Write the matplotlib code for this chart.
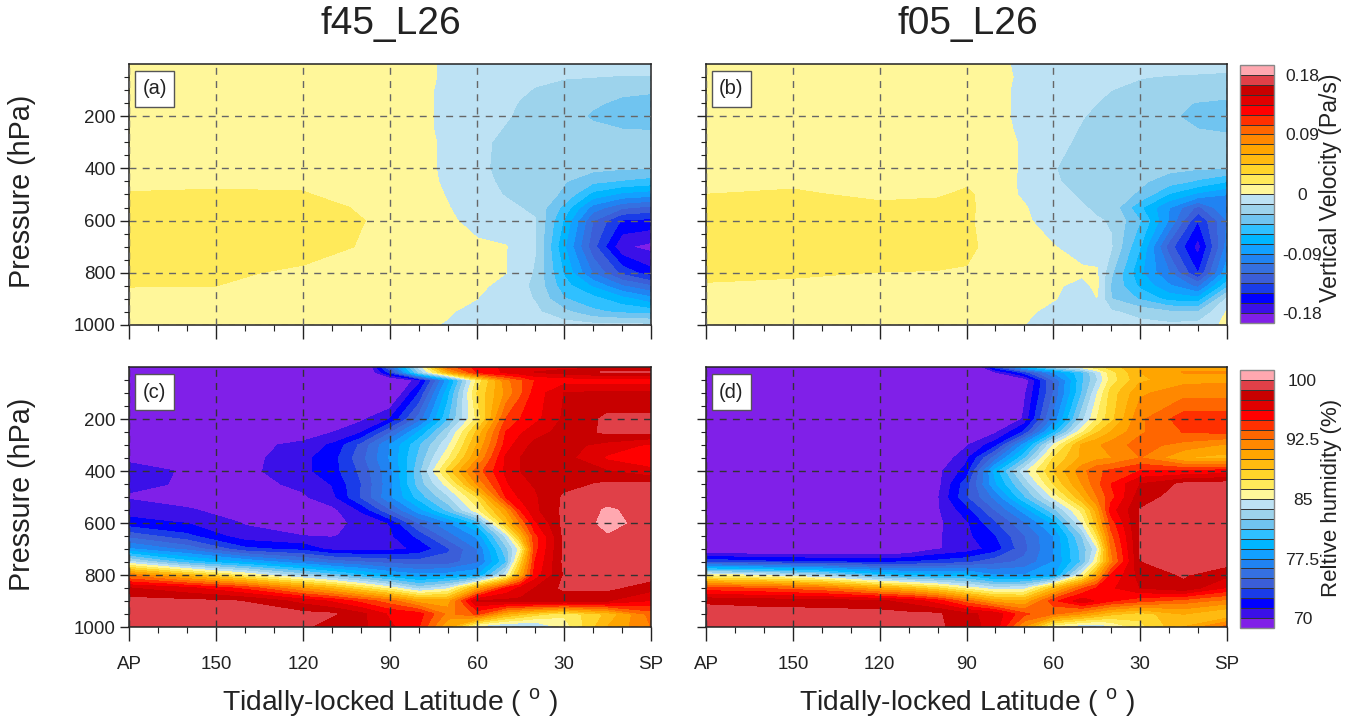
import numpy as np
import matplotlib
matplotlib.use("Agg")
import matplotlib.pyplot as plt
from matplotlib.patches import Rectangle

plt.rcParams['font.family'] = ['Liberation Sans', 'DejaVu Sans']
plt.rcParams['mathtext.fontset'] = 'custom'
plt.rcParams['mathtext.rm'] = 'Liberation Sans'

W, H = 1361, 723

titles = ['f45_L26', 'f05_L26']
panel_tags = ['(a)', '(b)', '(c)', '(d)']
xtick_vals = [180, 150, 120, 90, 60, 30, 0]
xtick_labels = ['AP', '150', '120', '90', '60', '30', 'SP']
ytick_vals = [200, 400, 600, 800, 1000]
band_colors = ['#8020e8', '#3b10e8', '#0000ff', '#1a3ce8', '#3b5ed8', '#3570e0', '#2083f2',
               '#12a0ff', '#00b6ff', '#2fc0ff', '#70c4f0', '#9dd3ec', '#bde2f4', '#fff79a',
               '#ffea5a', '#ffd52a', '#ffba10', '#ffa500', '#ff8800', '#ff6600', '#ff3000',
               '#ff0000', '#e00000', '#c80000', '#e04048', '#ffa8b0']
vv_levels = [-0.18, -0.165, -0.15, -0.135, -0.12, -0.105, -0.09, -0.075, -0.06, -0.045, -0.03, -0.015,
             0, 0.015, 0.03, 0.045, 0.06, 0.075, 0.09, 0.105, 0.12, 0.135, 0.15, 0.165, 0.18]
rh_levels = [70, 71.25, 72.5, 73.75, 75, 76.25, 77.5, 78.75, 80, 81.25, 82.5, 83.75,
             85, 86.25, 87.5, 88.75, 90, 91.25, 92.5, 93.75, 95, 96.25, 97.5, 98.75, 100]
vv_ticks = [-0.18, -0.09, 0, 0.09, 0.18]
vv_ticklabels = ['-0.18', '-0.09', '0', '0.09', '0.18']
rh_ticks = [70, 77.5, 85, 92.5, 100]
rh_ticklabels = ['70', '77.5', '85', '92.5', '100']

vv_lat = [180, 150, 120, 100, 90, 80, 70, 60, 50, 45, 40, 30, 20, 10, 0]
vv_p = [0, 50, 100, 150, 200, 250, 300, 400, 450, 500, 550, 600, 700, 800, 850, 900, 950, 1000]
vv_a = [
 [.006,.006,.006,.006,.005,.003,-.002,-.005,-.007,-.008,-.008,-.009,-.009,-.009,-.009],
 [.006,.006,.006,.006,.005,.003,-.002,-.007,-.009,-.010,-.012,-.014,-.015,-.016,-.016],
 [.006,.006,.006,.006,.005,.003,-.003,-.008,-.011,-.013,-.016,-.021,-.025,-.027,-.028],
 [.006,.006,.006,.006,.005,.003,-.003,-.008,-.012,-.016,-.019,-.024,-.028,-.033,-.036],
 [.006,.006,.006,.006,.005,.003,-.003,-.009,-.014,-.017,-.019,-.024,-.032,-.037,-.039],
 [.006,.006,.006,.006,.005,.003,-.003,-.010,-.016,-.018,-.020,-.024,-.027,-.030,-.031],
 [.006,.006,.006,.006,.005,.003,-.002,-.012,-.018,-.020,-.021,-.022,-.023,-.022,-.022],
 [.007,.007,.007,.006,.005,.003,-.002,-.012,-.019,-.020,-.021,-.023,-.026,-.029,-.030],
 [.011,.012,.012,.008,.007,.004,-.002,-.012,-.017,-.019,-.021,-.029,-.042,-.047,-.052],
 [.016,.017,.016,.009,.008,.006,-.001,-.009,-.016,-.017,-.020,-.033,-.066,-.080,-.085],
 [.022,.024,.021,.0135,.010,.007,.0005,-.007,-.012,-.015,-.018,-.050,-.097,-.118,-.125],
 [.025,.027,.023,.0155,.012,.008,.002,-.004,-.009,-.012,-.014,-.062,-.120,-.152,-.155],
 [.026,.028,.022,.014,.011,.009,.006,.002,.0005,-.008,-.014,-.073,-.130,-.178,-.185],
 [.023,.018,.012,.010,.009,.007,.005,.003,.000,-.007,-.017,-.062,-.107,-.140,-.160],
 [.0155,.015,.010,.009,.008,.006,.005,.002,-.003,-.011,-.019,-.054,-.078,-.105,-.120],
 [.009,.009,.008,.007,.006,.005,.004,.000,-.007,-.011,-.016,-.044,-.055,-.070,-.085],
 [.005,.005,.005,.005,.004,.003,.001,-.004,-.008,-.009,-.012,-.026,-.042,-.048,-.052],
 [.003,.003,.003,.003,.003,.002,-.001,-.004,-.006,-.006,-.007,-.009,-.011,-.012,-.013],
]
vv_b = [
 [.006,.006,.006,.006,.005,.002,-.002,-.005,-.006,-.006,-.007,-.008,-.009,-.009,-.010],
 [.006,.006,.006,.006,.005,.003,-.002,-.005,-.008,-.009,-.011,-.0145,-.016,-.017,-.018],
 [.006,.006,.006,.006,.005,.003,-.003,-.007,-.011,-.013,-.015,-.018,-.020,-.021,-.024],
 [.006,.006,.006,.006,.005,.003,-.003,-.008,-.012,-.015,-.018,-.023,-.026,-.031,-.033],
 [.006,.006,.006,.006,.005,.003,-.003,-.009,-.0145,-.017,-.019,-.022,-.028,-.034,-.036],
 [.006,.006,.006,.006,.005,.003,-.002,-.010,-.016,-.018,-.019,-.022,-.026,-.030,-.033],
 [.006,.006,.006,.006,.005,.003,-.001,-.012,-.017,-.018,-.019,-.021,-.022,-.022,-.023],
 [.007,.007,.007,.007,.007,.003,-.001,-.0145,-.019,-.020,-.021,-.023,-.026,-.029,-.030],
 [.011,.012,.010,.010,.012,.005,-.002,-.014,-.018,-.019,-.021,-.027,-.038,-.048,-.060],
 [.015,.017,.012,.013,.018,.006,-.002,-.010,-.017,-.019,-.021,-.033,-.062,-.080,-.090],
 [.021,.024,.018,.020,.019,.006,.001,-.008,-.014,-.017,-.020,-.058,-.090,-.125,-.090],
 [.024,.027,.022,.020,.018,.006,.002,-.006,-.011,-.014,-.016,-.045,-.092,-.150,-.105],
 [.027,.027,.027,.024,.020,.007,.004,.0005,-.005,-.008,-.014,-.060,-.128,-.172,-.100],
 [.020,.017,.0145,.014,.013,.006,.003,.002,.002,.002,-.028,-.072,-.105,-.151,-.080],
 [.013,.012,.010,.009,.008,.006,.004,.002,-.004,.003,-.032,-.064,-.088,-.110,-.050],
 [.008,.008,.008,.007,.006,.004,.002,.0005,-.004,-.0005,-.030,-.047,-.066,-.070,-.012],
 [.006,.006,.006,.006,.005,.003,.002,-.003,-.006,-.007,-.013,-.021,-.028,-.030,.001],
 [.003,.003,.003,.003,.003,.001,.000,-.003,-.005,-.006,-.007,-.010,-.012,-.010,.004],
]

rh_lat = [180, 160, 140, 120, 110, 100, 90, 80, 70, 60, 50, 45, 40, 30, 15, 0]
rh_p = [0, 20, 50, 100, 200, 250, 300, 350, 400, 450, 500, 550, 600, 650, 700, 750, 800, 850, 900, 950, 1000]
rh_c = [
 [65,65,65,65,65,66.5,75,84,93,95.5,96.5,97,97,97,97,97],
 [65,65,65,65,65,67,73,82.5,90,95,96.5,97,97.5,98,98.9,99],
 [65,65,65,65,65,66,68,70.5,78,86.5,92,93.5,95,95.5,95.5,95.5],
 [65,65,65,65,65,66,68,72.5,79.5,87.5,91.5,93.5,95.5,97.5,97.8,97.8],
 [65,65,65,66,68,69.7,71.25,75.5,81,86.5,93.8,95,95.8,97.7,99,99],
 [66,66,67,68.5,69.9,71,74.7,78.8,83.3,89,95,96,97,97.9,99,99],
 [68,68.5,69.2,70.6,71.4,74,77.5,81,84.7,90,95.5,97,97.8,98,97,96],
 [69.7,69.2,69.5,70.9,71.9,74.5,77.6,81.5,86,91,96.5,97.5,97.8,98,96,95.5],
 [70.5,69.85,69.6,70.9,71.9,74,77.1,82,88,93,96.5,97.5,97.7,98,97.5,96.5],
 [70.4,69.8,69.5,70.3,71.3,73.7,77,81.8,85.5,91.3,96,97.2,97.6,98.3,98.95,99],
 [69.8,69.5,69.5,69.8,70.8,73.8,77.2,80.5,83.5,87.5,95,96.5,97.3,98.9,99.4,99.3],
 [70.8,70.1,69.5,69.5,69.6,71.4,74.8,78.2,81.5,85.8,91,95,97.2,99,100.15,99.5],
 [71.6,71.2,69.9,69.5,69.6,70.3,71.3,75,77.2,80.3,89,92.5,96,99.1,100.3,99.6],
 [74.5,72.8,70.4,70,69.9,70.4,71,72.8,75.6,77.7,84,89.5,94.5,99,99.9,99.5],
 [77.6,75.8,72.8,72,70.8,70.7,70.8,71.5,73.5,76.2,82,85.5,94.5,99,99.6,99.4],
 [84,80.5,78.5,76.5,75.5,75,74.5,74.2,74.3,76,81,88,95,99,99.4,99.4],
 [92,89,86,83,81.5,80,78.5,77.7,78,78.5,84.5,90,95.5,98.8,99.2,99.3],
 [97.5,96.5,94.5,91,89.5,87.5,85.5,83,84.5,90,95,96.5,97.5,99,99,98],
 [99.2,99,98.7,97,96,94.5,93,90.5,90.5,97.5,97.8,97.8,97.8,97.8,97.5,96],
 [99.5,99.3,99.2,99.1,98.9,97.8,96,95.5,92,94,90,89,88,86.5,89,93],
 [99.5,99.4,99.2,99,98,97.8,96.5,95,90,84,83,83,83,85.5,90,92.5],
]
rh_d = [
 [65,65,65,65,65,65,66,73,79,83,85.5,87,88,90,91,91],
 [65,65,65,65,65,65,65,69.8,73,77.5,81,84,87,90,91.3,91.3],
 [65,65,65,65,65,65,65,66,69,75,81,83.5,86.8,89.7,90.8,91],
 [65,65,65,65,65,65,65,66,69.7,75,81.3,84.8,88,91,92,92],
 [65,65,65,65,65,65,65,66,70.3,76.5,83.3,86.2,88.3,92.2,94.4,94.4],
 [65,65,65,65,65,65,66,69.7,72.7,79.5,86,88.5,90,92.3,93.8,94],
 [65,65,65,65,66,68,69.8,72,78,85,90.3,91,91.8,93,92,91],
 [65,65,65,65.5,66.5,68.8,70.9,75.6,81,87.5,90.3,90.8,91.2,92.5,90,89.5],
 [65,65,65,66,67,69.6,71.7,79.2,84.5,88.7,92,93.5,94,95,95,95.5],
 [66,66,66,67,68,69.5,73.2,78.5,82.7,87.5,91.3,93.3,95,97.5,99,99.3],
 [66,66,66,66.5,68,69.8,73.5,76.6,81,85.2,89.8,92.4,94.5,98.2,99.3,99.3],
 [66,66,66,66.5,68,69.8,71.9,75,78,82,86.7,90.4,95.6,98.8,99.3,99.3],
 [67,67,67,67,68,69.7,71,73.5,76,79,85,89.4,94.3,98.9,99.3,99.3],
 [68,68,68,68,68.5,69.8,70.9,72.4,74.9,77.5,82.5,87.2,93.3,98.9,99.3,99.3],
 [68,68,68,68,68.5,69.9,70.5,71.8,74.6,77.5,81.7,84.5,92.5,98.9,99.3,99.3],
 [73.5,72.8,72.5,72.2,72.5,72.9,73.4,74.5,75.3,77.5,81.5,86,92,98.7,99.2,99.2],
 [85.5,84.5,83,80.2,79.3,79,79.2,77.5,77.5,78,85.5,90,95,98,98.85,97.8],
 [94,93.5,92.5,90,89,87.5,85.5,84,84.3,89,93.5,95,96,97.5,98.4,96],
 [98.5,98.2,98,97.7,97,95.5,93,90.5,90,94.5,97,96,95,94,93,92],
 [99.3,99.3,99.3,99.2,99,98.9,97.8,97,94,92.5,91,90,89,88,90,88.5],
 [99.3,99.3,99.3,99.3,99.2,99,98,97,91,85,83.5,83.5,84.5,87,90,93],
]


def px_axes(left, top, right, bottom):
    return fig.add_axes([left / W, 1 - bottom / H, (right - left) / W, (bottom - top) / H])


fig = plt.figure(figsize=(W / 100, H / 100), dpi=100, facecolor='white')
dark = '#222222'

panels = [
    (129, 651, 64, 325, vv_lat, vv_p, vv_a, vv_levels, '#666666', 0),
    (706, 1227, 64, 325, vv_lat, vv_p, vv_b, vv_levels, '#666666', 1),
    (129, 651, 367, 627, rh_lat, rh_p, rh_c, rh_levels, '#333333', 2),
    (706, 1227, 367, 627, rh_lat, rh_p, rh_d, rh_levels, '#333333', 3),
]
sets = []
for l, r, t, b, lat, p, z, lev, gc, i in panels:
    ax = px_axes(l, t, r, b)
    cs = ax.contourf(lat, p, np.array(z, dtype=float), levels=lev, colors=band_colors, extend='both')
    cs.set_edgecolor('face')
    cs.set_linewidth(0.3)
    sets.append(cs)
    ax.set_xlim(180, 0)
    ax.set_ylim(1000, 0)
    ax.set_xticks(xtick_vals)
    ax.set_xticks(list(range(0, 181, 10)), minor=True)
    ax.set_yticks(ytick_vals)
    ax.set_yticks(list(range(50, 1001, 50)), minor=True)
    ax.tick_params(axis='x', which='major', length=10, width=1, color=dark, labelsize=13.5,
                   labelcolor=dark, pad=11)
    ax.tick_params(axis='x', which='minor', length=4.5, width=0.8, color=dark)
    ax.tick_params(axis='y', which='major', length=6.5, width=1, color=dark, labelsize=13.5,
                   labelcolor=dark, pad=3)
    ax.tick_params(axis='y', which='minor', length=3.5, width=0.8, color=dark)
    ax.set_xticklabels(xtick_labels if i >= 2 else [])
    ax.set_yticklabels([str(v) for v in ytick_vals] if i % 2 == 0 else [])
    ax.grid(True, which='major', color=gc, linestyle=(0, (5, 4.5)), linewidth=1)
    ax.set_axisbelow(False)
    for s in ax.spines.values():
        s.set_linewidth(1.1)
        s.set_color(dark)
    if i % 2 == 0:
        fig.text(22 / W, 1 - ((t + b) / 2 - 3) / H, 'Pressure (hPa)', rotation=90, ha='center', va='center',
                 fontsize=20.7, color=dark)
    if i >= 2:
        fig.text((l + r) / 2 / W, 1 - 703 / H, 'Tidally-locked Latitude ( $^{\\mathrm{o}}$ )', ha='center',
                 va='center', fontsize=20.3, color=dark)
    else:
        fig.text(((l + r) / 2 + 1) / W, 1 - 24 / H, titles[i], ha='center', va='center', fontsize=28, color=dark)
    bx = l + 6
    by = t + 7
    fig.add_artist(Rectangle((bx / W, 1 - (by + 36) / H), 39 / W, 36 / H, transform=fig.transFigure,
                             facecolor='white', edgecolor='#555555', linewidth=1, zorder=5))
    fig.text((bx + 19.5) / W, 1 - (by + 18) / H, panel_tags[i], ha='center', va='center', fontsize=14.5,
             color=dark, zorder=6)

cbars = [
    (65, 323, sets[0], vv_ticks, vv_ticklabels, 'Vertical Velocity (Pa/s)', 188, 16.6),
    (370, 628, sets[2], rh_ticks, rh_ticklabels, 'Reltive humidity (%)', 498, 16.0),
]
for top, bot, cs, tv, tl, label, label_y, label_fs in cbars:
    cax = px_axes(1240, top, 1274, bot)
    cb = fig.colorbar(cs, cax=cax, orientation='vertical', extend='both', extendrect=True,
                      extendfrac='auto', spacing='uniform', drawedges=True, ticks=tv)
    cb.set_ticklabels(tl)
    cb.ax.tick_params(length=0, labelsize=12.6, labelcolor=dark, pad=0)
    for lab in cb.ax.get_yticklabels():
        lab.set_ha('center')
        lab.set_x(1.0 + 0.84)
    cb.dividers.set_color('#333333')
    cb.dividers.set_linewidth(0.7)
    cb.outline.set_edgecolor('#888888')
    cb.outline.set_linewidth(1)
    fig.text(1331 / W, 1 - label_y / H, label, rotation=90, ha='center', va='center', fontsize=label_fs,
             color=dark)

fig.savefig('out.png', dpi=100, facecolor='white')
